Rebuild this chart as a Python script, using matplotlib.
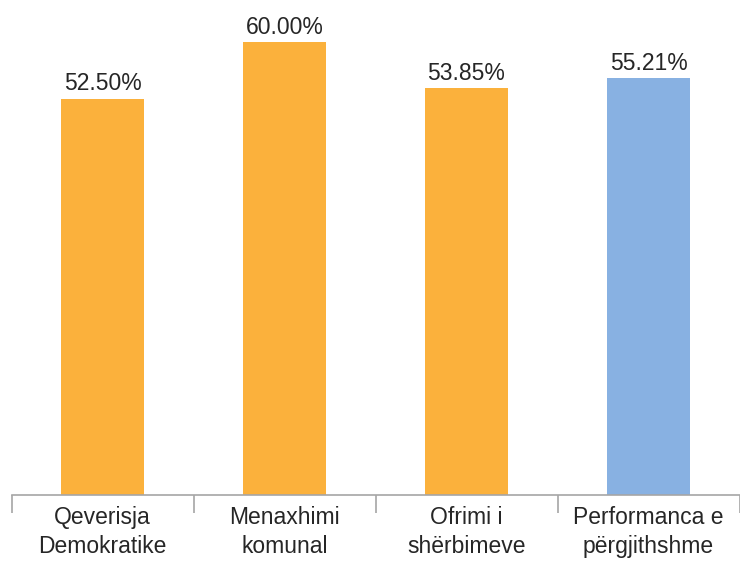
import matplotlib
matplotlib.use("Agg")
import matplotlib.pyplot as plt

# data
categories = ["Qeverisja\nDemokratike", "Menaxhimi\nkomunal", "Ofrimi i\nshërbimeve", "Performanca e\npërgjithshme"]
values = [52.50, 60.00, 53.85, 55.21]
value_labels = ["52.50%", "60.00%", "53.85%", "55.21%"]
bar_colors = ["#FBB13C", "#FBB13C", "#FBB13C", "#88B1E2"]

plt.rcParams["font.family"] = ["Liberation Sans", "DejaVu Sans"]

W, H = 740, 561
fig = plt.figure(figsize=(W / 100, H / 100), dpi=100)
# axes in pixel coords: left edge, baseline, 7.55 px per percent
left, base, width = 11.5, 495, 728
ymax = 65
ax = fig.add_axes([left / W, (H - base) / H, width / W, ymax * 7.55 / H])

x = list(range(len(categories)))
ax.bar(x, values, width=0.456, color=bar_colors, zorder=2)

for xi, v, lab in zip(x, values, value_labels):
    ax.annotate(lab, (xi, v), xytext=(0, 2.5), textcoords="offset points",
                ha="center", va="bottom", fontsize=16.5, color="#262626")

ax.set_xlim(-0.5, len(categories) - 0.5)
ax.set_ylim(0, ymax)

for s in ["top", "right", "left"]:
    ax.spines[s].set_visible(False)
ax.spines["bottom"].set_color("#A6A6A6")
ax.spines["bottom"].set_linewidth(1.2)
ax.set_yticks([])

ax.set_xticks(x)
ax.set_xticklabels(categories, fontsize=16.5, color="#262626", linespacing=1.3)
ax.tick_params(axis="x", which="major", length=0, pad=8)

# separator ticks between categories
ax.set_xticks([i - 0.5 for i in range(len(categories) + 1)], minor=True)
ax.tick_params(axis="x", which="minor", length=13, width=1.2, color="#A6A6A6", direction="out")

fig.savefig("out.png", dpi=100)
